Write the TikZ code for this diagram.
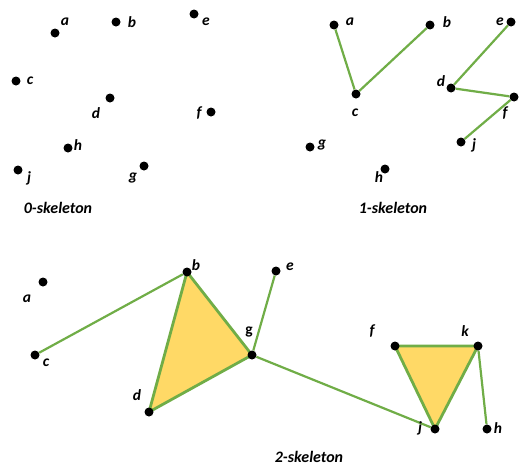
\documentclass[tikz,border=0pt]{standalone}
\usepackage{fontspec}
\setmainfont{Carlito}
\usetikzlibrary{backgrounds}
\definecolor{edgegreen}{HTML}{70AD47}
\definecolor{facegold}{HTML}{FFD966}
\tikzset{
  vertex/.style={circle,fill=black,inner sep=0pt,minimum size=9pt},
  vname/.style={font=\bfseries\itshape\fontsize{15.5}{18}\selectfont,inner sep=0pt},
  edge/.style={edgegreen,line width=2.2pt},
  face/.style={fill=facegold,draw=edgegreen,line width=2.8pt,line join=round},
  title/.style={font=\bfseries\itshape\fontsize{16}{19}\selectfont,inner sep=0pt}
}
\begin{document}
\begin{tikzpicture}[x=1pt,y=-1pt]
    \useasboundingbox (0,0) rectangle (524,466);
    % 0-skeleton: points only
    \foreach \n/\x/\y/\lx/\ly in {a/55/33/65/22, b/116/22/132/22, e/194/14/206/22,
        c/16/81/30/81, d/110/98/96/113, f/211/112/199/113, h/68/148/78/145,
        j/18/170/29/178, g/144/166/133/178} {
        \node[vertex] (\n0) at (\x,\y) {};
        \node[vname] (l\n0) at (\lx,\ly) {\n};
    }
    \node[title] (t0) at (58,208) {0-skeleton};
    % 1-skeleton: points and edges
    \foreach \n/\x/\y/\lx/\ly in {a/334/25/350/22, b/430/25/447/22, e/511/22/500/22,
        c/356/94/355/113, d/451/88/441/81, f/514/97/505/113, j/461/142/474/145,
        g/310/147/322/145, h/385/169/379/177} {
        \node[vertex] (\n1) at (\x,\y) {};
        \node[vname] (l\n1) at (\lx,\ly) {\n};
    }
    \draw[edge] (a1) -- (c1) -- (b1);
    \draw[edge] (e1) -- (d1) -- (f1) -- (j1);
    \node[title] (t1) at (393,208) {1-skeleton};
    % 2-skeleton: points, edges and faces
    \foreach \n/\x/\y/\lx/\ly in {a/43/282/27/299, b/187/272/196/265, c/35/355/46/363,
        d/149/412/137/395, e/276/271/290/267, f/395/346/372/331, k/478/346/465/331,
        j/435/429/420/428, h/487/429/498/428} {
        \node[vertex] (\n2) at (\x,\y) {};
        \node[vname] (l\n2) at (\lx,\ly) {\n};
    }
    \node[vertex] (g2) at (252,355) {};
    \node[vname,font=\bfseries\fontsize{15.5}{18}\selectfont] (lg2) at (249,332) {g};
    \begin{scope}[on background layer]
        \draw[face] (b2.center) -- (d2.center) -- (g2.center) -- cycle;
        \draw[face] (f2.center) -- (k2.center) -- (j2.center) -- cycle;
        \draw[edge] (c2) -- (b2);
        \draw[edge] (e2) -- (g2) -- (j2);
        \draw[edge] (k2) -- (h2);
    \end{scope}
    \node[title] (t2) at (309,457) {2-skeleton};
\end{tikzpicture}
\end{document}
